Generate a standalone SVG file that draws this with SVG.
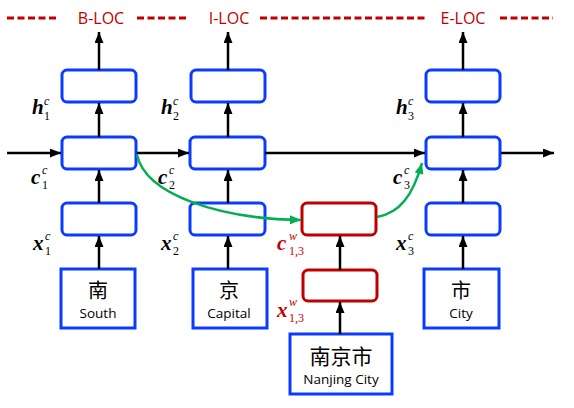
<svg xmlns="http://www.w3.org/2000/svg" width="574" height="408" viewBox="0 0 574 408">
<style>
.cell{fill:#fff;stroke:#0A3CFF;stroke-width:3}
.wcell{fill:#fff;stroke:#C00000;stroke-width:3}
.inp{fill:#fff;stroke:#0A3CFF;stroke-width:3}
.ar{stroke:#000;stroke-width:2.5;fill:none}
.gr{stroke:#00B050;stroke-width:2.5;fill:none}
.dash{stroke:#C00000;stroke-width:3;stroke-dasharray:7,3.5}
.tag{font-family:"Open Sans","Noto Sans",sans-serif;font-size:16px;fill:#C00000;text-anchor:middle}
.zh{font-family:"Noto Sans CJK SC",sans-serif;font-size:20px;fill:#000;text-anchor:middle}
.en{font-family:"Open Sans","Noto Sans",sans-serif;font-size:13.5px;fill:#000;text-anchor:middle}
.m{font-family:"Liberation Serif","DejaVu Serif",serif;font-size:21px;font-weight:bold;font-style:italic;fill:#000}
.sp{font-family:"Liberation Serif","DejaVu Serif",serif;font-size:12px;font-style:italic;fill:#000}
.sb{font-family:"Liberation Serif","DejaVu Serif",serif;font-size:12px;fill:#000}
.red{fill:#C00000}
</style>
<defs>
<marker id="ah" markerUnits="userSpaceOnUse" markerWidth="11" markerHeight="9" refX="11" refY="4.5" orient="auto"><path d="M0,0 L11,4.5 L0,9 z" fill="#000"/></marker>
<marker id="gh" markerUnits="userSpaceOnUse" markerWidth="11" markerHeight="9" refX="11" refY="4.5" orient="auto"><path d="M0,0 L11,4.5 L0,9 z" fill="#00B050"/></marker>
</defs>

<g id="tags">
<line class="dash" x1="7" y1="18" x2="59" y2="18"/>
<text class="tag" x="101" y="24">B-LOC</text>
<line class="dash" x1="137" y1="18" x2="189" y2="18"/>
<text class="tag" x="229" y="24">I-LOC</text>
<line class="dash" x1="260" y1="18" x2="428" y2="18"/>
<text class="tag" x="463" y="24">E-LOC</text>
<line class="dash" x1="500" y1="18" x2="553" y2="18"/>
</g>

<g id="h1"><rect class="cell" x="62" y="70" width="74" height="32" rx="5"/></g>
<g id="h2"><rect class="cell" x="191" y="70" width="74" height="32" rx="5"/></g>
<g id="h3"><rect class="cell" x="426" y="70" width="74" height="32" rx="5"/></g>
<g id="c1"><rect class="cell" x="62" y="137" width="74" height="32" rx="5"/></g>
<g id="c2"><rect class="cell" x="190" y="137" width="75" height="32" rx="5"/></g>
<g id="c3"><rect class="cell" x="426" y="137" width="74" height="32" rx="5"/></g>
<g id="x1"><rect class="cell" x="62" y="203" width="74" height="32" rx="5"/></g>
<g id="x2"><rect class="cell" x="190" y="203" width="75" height="32" rx="5"/></g>
<g id="x3"><rect class="cell" x="426" y="203" width="74" height="32" rx="5"/></g>
<g id="cw"><rect class="wcell" x="302" y="203" width="74" height="32" rx="5"/></g>
<g id="xw"><rect class="wcell" x="303" y="270" width="74" height="31" rx="5"/></g>

<g id="in1"><rect class="inp" x="61" y="269" width="74" height="59"/>
<text class="zh" x="98" y="298">南</text><text class="en" x="98" y="318">South</text></g>
<g id="in2"><rect class="inp" x="193" y="269" width="74" height="59"/>
<text class="zh" x="229" y="298">京</text><text class="en" x="229" y="318">Capital</text></g>
<g id="in3"><rect class="inp" x="424" y="269" width="75" height="59"/>
<text class="zh" x="461" y="298">市</text><text class="en" x="461" y="318">City</text></g>
<g id="inw"><rect class="inp" x="290" y="334" width="102" height="60"/>
<text class="zh" x="341" y="364" style="font-size:21px">南京市</text><text class="en" x="341" y="384">Nanjing City</text></g>

<g id="connectors">
<line class="ar" x1="99" y1="70" x2="99" y2="32" marker-end="url(#ah)"/>
<line class="ar" x1="228" y1="70" x2="228" y2="32" marker-end="url(#ah)"/>
<line class="ar" x1="463" y1="70" x2="463" y2="32" marker-end="url(#ah)"/>
<line class="ar" x1="99" y1="137" x2="99" y2="103" marker-end="url(#ah)"/>
<line class="ar" x1="228" y1="137" x2="228" y2="103" marker-end="url(#ah)"/>
<line class="ar" x1="463" y1="137" x2="463" y2="103" marker-end="url(#ah)"/>
<line class="ar" x1="99" y1="203" x2="99" y2="170" marker-end="url(#ah)"/>
<line class="ar" x1="228" y1="203" x2="228" y2="170" marker-end="url(#ah)"/>
<line class="ar" x1="463" y1="203" x2="463" y2="170" marker-end="url(#ah)"/>
<line class="ar" x1="99" y1="269" x2="99" y2="236" marker-end="url(#ah)"/>
<line class="ar" x1="228" y1="269" x2="228" y2="236" marker-end="url(#ah)"/>
<line class="ar" x1="463" y1="269" x2="463" y2="236" marker-end="url(#ah)"/>
<line class="ar" x1="340" y1="334" x2="340" y2="302" marker-end="url(#ah)"/>
<line class="ar" x1="340" y1="270" x2="340" y2="236" marker-end="url(#ah)"/>
<line class="ar" x1="7" y1="153" x2="61" y2="153" marker-end="url(#ah)"/>
<line class="ar" x1="137" y1="153" x2="189" y2="153" marker-end="url(#ah)"/>
<line class="ar" x1="265" y1="153" x2="425" y2="153" marker-end="url(#ah)"/>
<line class="ar" x1="501" y1="153" x2="554" y2="153" marker-end="url(#ah)"/>
<path class="gr" d="M137,155 C146,195 220,219 301,220" marker-end="url(#gh)"/>
<path class="gr" d="M377,217 C400,213 413,195 422,163" marker-end="url(#gh)"/>
</g>

<g id="labels">
<text class="m" x="32" y="114">h</text><text class="sp" x="44" y="105">c</text><text class="sb" x="44" y="120">1</text>
<text class="m" x="161" y="114">h</text><text class="sp" x="173" y="105">c</text><text class="sb" x="173" y="120">2</text>
<text class="m" x="396" y="114">h</text><text class="sp" x="408" y="105">c</text><text class="sb" x="408" y="120">3</text>
<text class="m" x="31" y="184">c</text><text class="sp" x="42" y="174">c</text><text class="sb" x="42" y="189">1</text>
<text class="m" x="158" y="184">c</text><text class="sp" x="169" y="174">c</text><text class="sb" x="169" y="189">2</text>
<text class="m" x="393" y="184">c</text><text class="sp" x="404" y="174">c</text><text class="sb" x="404" y="189">3</text>
<text class="m" x="33" y="250">x</text><text class="sp" x="45" y="240">c</text><text class="sb" x="45" y="255">1</text>
<text class="m" x="161" y="250">x</text><text class="sp" x="173" y="240">c</text><text class="sb" x="173" y="255">2</text>
<text class="m" x="396" y="250">x</text><text class="sp" x="408" y="240">c</text><text class="sb" x="408" y="255">3</text>
<text class="m red" x="277" y="250">c</text><text class="sp red" x="289" y="240">w</text><text class="sb red" x="289" y="255">1,3</text>
<text class="m red" x="277" y="317">x</text><text class="sp red" x="289" y="306">w</text><text class="sb red" x="289" y="322">1,3</text>
</g>
</svg>
